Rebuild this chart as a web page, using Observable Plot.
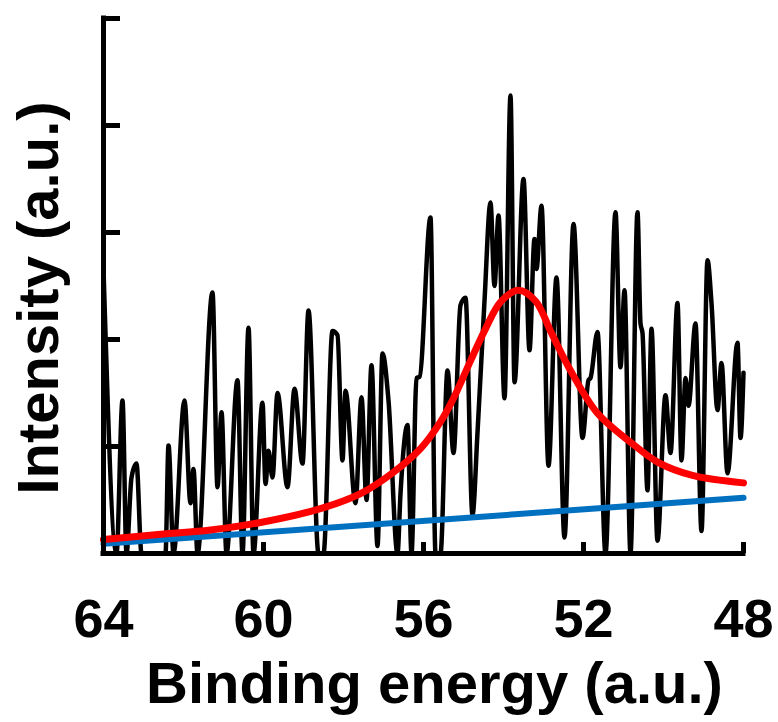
<!DOCTYPE html>
<html><head><meta charset="utf-8">
<script src="https://cdn.jsdelivr.net/npm/d3@7"></script>
<script src="https://cdn.jsdelivr.net/npm/@observablehq/plot@0.6"></script>
<style>body{margin:0;background:#fff;}</style>
</head><body><div id="chart"></div>
<script>
// Measured spectrum (binding energy in eV, intensity in a.u.)
const energy = [64.0,63.675,63.525,63.425,63.3,63.175,63.05,62.45,62.375,62.25,61.975,61.825,61.75,61.65,61.275,61.15,61.05,60.925,60.65,60.525,60.375,60.25,60.025,59.95,59.875,59.775,59.65,59.4,59.225,59.025,58.875,58.625,58.5,58.275,58.15,58.025,57.95,57.7,57.55,57.425,57.3,57.15,57.025,56.875,56.65,56.575,56.4,56.3,56.175,56.1,55.825,55.7,55.575,55.4,55.25,55.075,54.95,54.775,54.65,54.475,54.325,54.225,54.125,53.975,53.825,53.725,53.5,53.35,53.225,53.175,53.05,52.875,52.675,52.475,52.25,52.025,51.875,51.825,51.65,51.45,51.2,51.075,50.975,50.825,50.65,50.575,50.525,50.4,50.3,50.15,49.95,49.825,49.65,49.55,49.45,49.375,49.2,49.05,48.9,48.8,48.65,48.55,48.4,48.15,48.075,48.0];
const intensity = [2.66,0,1.43,0,0.71,0.84,0,0,1.01,0,1.43,0.47,0.79,0,2.44,0.62,1.32,0,1.62,0,2.11,0,1.41,0.65,0.96,0.71,1.50,0.62,1.54,0.84,2.27,0,0,2.08,2.04,0.87,1.52,0.47,1.46,0.50,1.76,0.07,1.87,1.43,0,0.56,1.20,0,1.64,1.65,3.14,0,0,1.71,0.94,2.32,2.39,0.36,1.13,2.36,3.28,2.50,3.16,1.45,4.28,1.60,3.50,1.90,2.94,2.66,3.25,0.82,2.58,0.15,3.08,1.08,1.62,1.64,2.07,0,3.19,1.74,2.46,0,3.19,2.15,2.06,0.59,2.10,0.12,1.48,0.94,2.34,0.87,1.64,1.38,2.15,0.21,2.74,2.34,1.34,1.78,0.75,1.97,1.08,1.69];
// Fitted peak (red)
const fitEnergy = [64.0,62.575,61.325,60.075,58.575,57.575,56.75,56.075,55.575,55.25,54.825,54.45,54.075,53.625,53.2,52.8,52.325,51.65,50.825,50.125,49.275,48.0];
const fitIntensity = [0.13,0.18,0.22,0.29,0.42,0.56,0.76,0.98,1.23,1.45,1.80,2.10,2.35,2.46,2.36,2.06,1.71,1.31,1.04,0.85,0.73,0.66];
// Background (blue)
const baseEnergy = [64, 48];
const baseIntensity = [0.09, 0.52];
// Axes
const xTicks = [64, 60, 56, 52, 48];
const yTicks = [0, 1, 2, 3, 4, 5];
const xLabel = "Binding energy (a.u.)";
const yLabel = "Intensity (a.u.)";

const raw = energy.map((e, i) => ({e, v: intensity[i]}));
const fit = fitEnergy.map((e, i) => ({e, v: fitIntensity[i]}));
const base = baseEnergy.map((e, i) => ({e, v: baseIntensity[i]}));

const font = "'Liberation Sans', Arial, sans-serif";
const chart = Plot.plot({
  width: 778, height: 722,
  marginLeft: 103, marginRight: 35, marginTop: 18, marginBottom: 169,
  x: {domain: [64, 48]},
  y: {domain: [0, 5]},
  style: {fontFamily: font, background: "white", color: "black"},
  marks: [
    Plot.line(raw, {x: "e", y: "v", stroke: "black", strokeWidth: 4.5, curve: "monotone-x"}),
    Plot.line(base, {x: "e", y: "v", stroke: "#0070C0", strokeWidth: 6}),
    Plot.line(fit, {x: "e", y: "v", stroke: "#FF0000", strokeWidth: 7, curve: "catmull-rom"}),
    Plot.axisY({ticks: yTicks, tickSize: -17, tickFormat: () => "", strokeWidth: 5, label: null}),
    Plot.axisX({ticks: xTicks, tickSize: -11, tickFormat: () => "", strokeWidth: 5, label: null}),
    Plot.ruleX([64], {strokeWidth: 5, strokeLinecap: "square"}),
    Plot.ruleY([0], {strokeWidth: 5, strokeLinecap: "square"}),
    Plot.text(xTicks, {x: d => d, frameAnchor: "bottom", lineAnchor: "middle", dy: 66, fontSize: 54, fontWeight: "bold", text: d => String(d)}),
    Plot.text([xLabel], {frameAnchor: "bottom", lineAnchor: "middle", textAnchor: "middle", dx: 11, dy: 131, fontSize: 58, fontWeight: "bold"}),
    Plot.text([yLabel], {frameAnchor: "left", lineAnchor: "middle", textAnchor: "middle", dx: -64, dy: 12, rotate: -90, fontSize: 58, fontWeight: "bold"})
  ]
});
document.getElementById("chart").appendChild(chart);
</script>
</body></html>
